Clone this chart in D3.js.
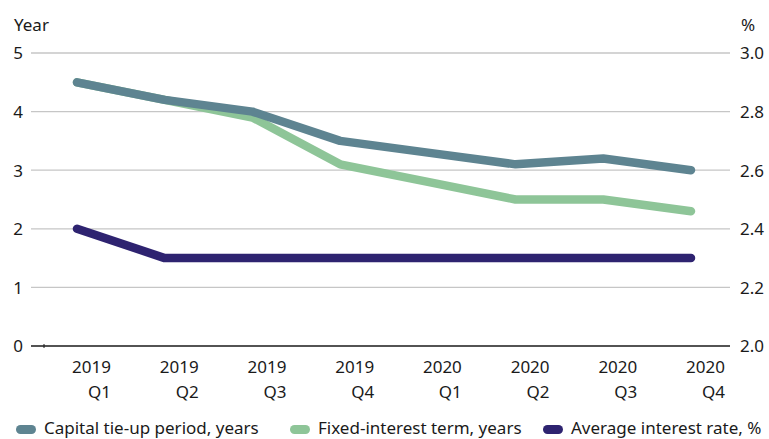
<!DOCTYPE html>
<html>
<head>
<meta charset="utf-8">
<script src="https://cdn.jsdelivr.net/npm/d3@7"></script>
<style>
  html, body { margin: 0; padding: 0; background: #fff; }
  svg { display: block; font-family: "Noto Sans", "Open Sans", sans-serif; }
</style>
</head>
<body>
<svg id="chart" width="769" height="439"></svg>
<script>
const years = ["2019", "2019", "2019", "2019", "2020", "2020", "2020", "2020"];
const quarters = ["Q1", "Q2", "Q3", "Q4", "Q1", "Q2", "Q3", "Q4"];
const categories = years.map((y, i) => y + " " + quarters[i]);
const capitalTieUp = [4.5, 4.2, 4.0, 3.5, 3.3, 3.1, 3.2, 3.0];
const fixedInterest = [4.5, 4.2, 3.9, 3.1, 2.8, 2.5, 2.5, 2.3];
const avgRate = [2.4, 2.3, 2.3, 2.3, 2.3, 2.3, 2.3, 2.3];
const leftTicks = [0, 1, 2, 3, 4, 5];
const rightTicks = [2.0, 2.2, 2.4, 2.6, 2.8, 3.0];
const seriesNames = ["Capital tie-up period, years", "Fixed-interest term, years", "Average interest rate, %"];
const colors = ["#5e8491", "#8ec598", "#2e2370"];

const svg = d3.select("#chart");
const gridLeft = 31, gridRight = 730, plotTop = 53, plotBottom = 346;
const fs = 17;

const x = d3.scalePoint().domain(categories).range([77, 691]);
const yL = d3.scaleLinear().domain([0, 5]).range([plotBottom, plotTop]);
const yR = d3.scaleLinear().domain([2.0, 3.0]).range([plotBottom, plotTop]);

// gridlines
svg.append("g").selectAll("line").data(leftTicks.filter(d => d > 0)).join("line")
  .attr("x1", gridLeft).attr("x2", gridRight)
  .attr("y1", d => yL(d)).attr("y2", d => yL(d))
  .attr("stroke", "#c6c6c6").attr("stroke-width", 1.3);

// zero axis line
svg.append("line").attr("x1", gridLeft).attr("x2", gridRight)
  .attr("y1", yL(0)).attr("y2", yL(0))
  .attr("stroke", "#1a1a1a").attr("stroke-width", 1.6);
svg.append("line").attr("x1", 44).attr("x2", 44)
  .attr("y1", yL(0) - 2).attr("y2", yL(0) + 2)
  .attr("stroke", "#1a1a1a").attr("stroke-width", 1);

// left axis labels
const leftAxis = d3.axisLeft(yL).tickValues(leftTicks).tickSize(0).tickPadding(0).tickFormat(d3.format("d"));
const gL = svg.append("g").attr("transform", "translate(23,0)").call(leftAxis);
gL.select(".domain").remove();
gL.selectAll("text").attr("font-size", fs).attr("fill", "#1a1a1a").attr("font-family", "Noto Sans").attr("dy", "0.35em");

// right axis labels
const rightAxis = d3.axisRight(yR).tickValues(rightTicks).tickSize(0).tickPadding(0).tickFormat(d3.format(".1f"));
const gR = svg.append("g").attr("transform", "translate(740,0)").call(rightAxis);
gR.select(".domain").remove();
gR.selectAll("text").attr("font-size", fs).attr("fill", "#1a1a1a").attr("font-family", "Noto Sans").attr("dy", "0.35em");

// axis titles
svg.append("text").attr("x", 14).attr("y", 31).text("Year")
  .attr("font-size", fs).attr("fill", "#1a1a1a");
svg.append("text").attr("x", 741).attr("y", 31).text("%")
  .attr("font-size", fs).attr("fill", "#1a1a1a");

// x labels
const xl = svg.append("g");
categories.forEach((c, i) => {
  const t = xl.append("text").attr("text-anchor", "end")
    .attr("font-size", fs).attr("fill", "#1a1a1a");
  const px = x(c) + 34;
  t.append("tspan").attr("x", px).attr("y", 373).text(years[i]);
  t.append("tspan").attr("x", px).attr("y", 398).text(quarters[i]);
});

// lines
const lineL = d3.line().x((d, i) => x(categories[i])).y(d => yL(d));
const lineR = d3.line().x((d, i) => x(categories[i])).y(d => yR(d));

svg.append("path").datum(fixedInterest).attr("d", lineL)
  .attr("fill", "none").attr("stroke", colors[1]).attr("stroke-width", 8.5)
  .attr("stroke-linecap", "round").attr("stroke-linejoin", "round");
svg.append("path").datum(capitalTieUp).attr("d", lineL)
  .attr("fill", "none").attr("stroke", colors[0]).attr("stroke-width", 8.5)
  .attr("stroke-linecap", "round").attr("stroke-linejoin", "round");
svg.append("path").datum(avgRate).attr("d", lineR)
  .attr("fill", "none").attr("stroke", colors[2]).attr("stroke-width", 8.5)
  .attr("stroke-linecap", "round").attr("stroke-linejoin", "round");

// legend
const legendX = [16, 290, 543];
const lg = svg.append("g");
seriesNames.forEach((n, i) => {
  lg.append("rect").attr("x", legendX[i]).attr("y", 425).attr("width", 20).attr("height", 9)
    .attr("rx", 4.5).attr("fill", colors[i]);
  lg.append("text").attr("x", legendX[i] + 28).attr("y", 434).text(n)
    .attr("font-size", fs).attr("fill", "#1a1a1a");
});
</script>
</body>
</html>
